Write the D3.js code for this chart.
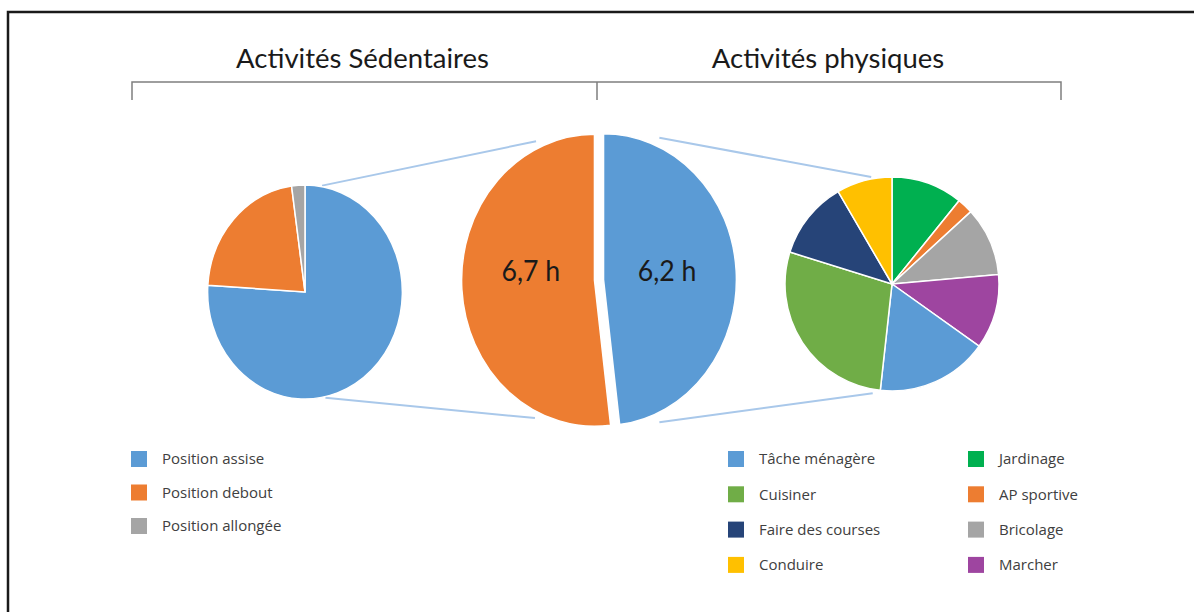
<!DOCTYPE html>
<html>
<head>
<meta charset="utf-8">
<script src="https://cdn.jsdelivr.net/npm/d3@7"></script>
<style>
  body { margin: 0; background: #fff; }
  svg { display: block; }
  .title { font-family: Lato, "Open Sans", sans-serif; fill: #1a1a1a; }
  .legend text { font-family: "Open Sans", sans-serif; font-size: 15px; fill: #404040; }
</style>
</head>
<body>
<svg width="1194" height="612"></svg>
<script>
// --- data ---
const groupTitles = ["Activités Sédentaires", "Activités physiques"];
// centre pie: physical first (right half), sedentary second (left half)
const groupNames = ["Activités physiques", "Activités Sédentaires"];
const groupHours = [6.2, 6.7];

const sedCats = ["Position assise", "Position debout", "Position allongée"];
const sedShare = [76, 21.8, 2.2];

const physCats = ["Jardinage", "AP sportive", "Bricolage", "Marcher", "Tâche ménagère", "Cuisiner", "Faire des courses", "Conduire"];
const physShare = [10.8, 2.4, 10.4, 11.3, 16.9, 28.1, 11.8, 8.4];
const physLegendCols = [
  ["Tâche ménagère", "Cuisiner", "Faire des courses", "Conduire"],
  ["Jardinage", "AP sportive", "Bricolage", "Marcher"]
];

const colors = {
  "Position assise": "#5b9bd5", "Position debout": "#ed7d31", "Position allongée": "#a5a5a5",
  "Activités physiques": "#5b9bd5", "Activités Sédentaires": "#ed7d31",
  "Tâche ménagère": "#5b9bd5", "Cuisiner": "#70ad47", "Faire des courses": "#264478", "Conduire": "#ffc000",
  "Jardinage": "#00b050", "AP sportive": "#ed7d31", "Bricolage": "#a5a5a5", "Marcher": "#9e45a0"
};

// --- layout ---
const svg = d3.select("svg");
const leftPie = { cx: 305, cy: 292, r: 107, sx: 0.91 };
const midPie = { cx: 599, cy: 280, r: 146, sx: 0.91 };
const rightPie = { cx: 892, cy: 284, r: 107, sx: 1 };
const pie = d3.pie().sort(null).value(d => d.v);
const fmt = v => d3.format(".1f")(v).replace(".", ",") + " h";

// frame
svg.append("path")
  .attr("d", "M8,612 V12 H1194")
  .attr("fill", "none").attr("stroke", "#1a1a1a").attr("stroke-width", 2.5);

// bracket + titles
const bracketY = 82;
const bx = [132, 597, 1061];
svg.append("path")
  .attr("d", `M${bx[0]},${bracketY + 18} V${bracketY} H${bx[2]} V${bracketY + 18} M${bx[1]},${bracketY} V${bracketY + 18}`)
  .attr("fill", "none").attr("stroke", "#7f7f7f").attr("stroke-width", 1.5);
svg.selectAll(".title").data(groupTitles).join("text")
  .attr("class", "title")
  .attr("x", (d, i) => (bx[i] + bx[i + 1]) / 2 + (i === 0 ? -2 : -1))
  .attr("y", 68)
  .attr("text-anchor", "middle")
  .attr("font-size", 27.5)
  .text(d => d);

// connector lines (polar points on each pie)
function polar(p, deg, pad) {
  const a = deg * Math.PI / 180;
  return [p.cx + Math.sin(a) * (p.r + pad) * p.sx, p.cy - Math.cos(a) * (p.r + pad)];
}
const connectors = [
  [polar(leftPie, 10, 1), polar(midPie, 333.5, 9)],
  [polar(leftPie, 168, 1), polar(midPie, 207, 9)],
  [polar(midPie, 25, 11), polar(rightPie, 349, 2)],
  [polar(midPie, 155, 11), polar(rightPie, 190, 4)]
];
svg.append("g").selectAll("line").data(connectors).join("line")
  .attr("x1", d => d[0][0]).attr("y1", d => d[0][1])
  .attr("x2", d => d[1][0]).attr("y2", d => d[1][1])
  .attr("stroke", "#a9c8ea").attr("stroke-width", 2);

function drawPie(p, cats, vals, explode) {
  const arc = d3.arc().innerRadius(0).outerRadius(p.r);
  const g = svg.append("g").attr("transform", `translate(${p.cx},${p.cy}) scale(${p.sx},1)`);
  const arcs = pie(cats.map((c, i) => ({ c, v: vals[i] })));
  g.selectAll("path").data(arcs).join("path")
    .attr("d", arc)
    .attr("transform", d => {
      const m = (d.startAngle + d.endAngle) / 2;
      return `translate(${Math.sin(m) * explode},${-Math.cos(m) * explode})`;
    })
    .attr("fill", d => colors[d.data.c])
    .attr("stroke", "#fff").attr("stroke-width", 1.5)
    .attr("vector-effect", "non-scaling-stroke");
  return { g, arcs };
}

drawPie(leftPie, sedCats, sedShare, 0);
const mid = drawPie(midPie, groupNames, groupHours, 5);
drawPie(rightPie, physCats, physShare, 0);

// hours labels in the centre pie
const labelArc = d3.arc().innerRadius(0).outerRadius(150);
svg.append("g").selectAll("text").data(mid.arcs).join("text")
  .attr("transform", d => {
    const [x] = labelArc.centroid(d);
    return `translate(${midPie.cx + x * midPie.sx},${midPie.cy - 9}) scale(0.92,1)`;
  })
  .attr("text-anchor", "middle")
  .attr("dy", "0.36em")
  .attr("font-family", "Lato, 'Open Sans', sans-serif")
  .attr("font-size", 29)
  .attr("fill", "#1a1a1a")
  .text(d => fmt(d.data.v));

// legends
function legend(x, y0, step, cats) {
  const g = svg.append("g").attr("class", "legend");
  const row = g.selectAll("g").data(cats).join("g")
    .attr("transform", (d, i) => `translate(${x},${y0 + i * step})`);
  row.append("rect").attr("x", 0).attr("y", -8).attr("width", 16).attr("height", 16)
    .attr("fill", d => colors[d]);
  row.append("text").attr("x", 31).attr("dy", "0.35em").text(d => d);
}
legend(131, 459, 33.5, sedCats);
legend(728, 459, 35.3, physLegendCols[0]);
legend(968, 459, 35.3, physLegendCols[1]);
</script>
</body>
</html>
